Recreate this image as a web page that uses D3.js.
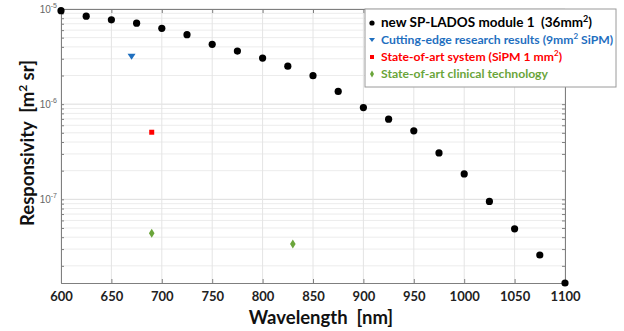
<!DOCTYPE html>
<html>
<head>
<meta charset="utf-8">
<script src="https://cdn.jsdelivr.net/npm/d3@7"></script>
<style>
  body { margin: 0; background: #fff; }
  svg { font-family: Lato, "Open Sans", sans-serif; }
</style>
</head>
<body>
<div id="chart"></div>
<script>
// main series: new SP-LADOS module 1
const wavelengths = [600, 625, 650, 675, 700, 725, 750, 775, 800, 825, 850, 875, 900, 925, 950, 975, 1000, 1025, 1050, 1075, 1100];
const responsivity = [9.6e-6, 8.4e-6, 7.7e-6, 7.1e-6, 6.26e-6, 5.37e-6, 4.25e-6, 3.61e-6, 3.05e-6, 2.51e-6, 1.99e-6, 1.36e-6, 9.2e-7, 6.95e-7, 5.24e-7, 3.07e-7, 1.85e-7, 9.5e-8, 4.9e-8, 2.6e-8, 1.32e-8];

// comparison points
const cuttingEdge = [{ x: 670, y: 3.15e-6 }];
const stateSystem = [{ x: 690, y: 5.07e-7 }];
const clinical = [{ x: 690, y: 4.4e-8 }, { x: 830, y: 3.4e-8 }];

const xTicks = [600, 650, 700, 750, 800, 850, 900, 950, 1000, 1050, 1100];
const yExponents = [-5, -6, -7];

const legendItems = [
  { label: "new SP-LADOS module 1  (36mm²)", color: "#000", shape: "circle" },
  { label: "Cutting-edge research results (9mm² SiPM)", color: "#1f6fbf", shape: "triangle" },
  { label: "State-of-art system (SiPM 1 mm²)", color: "#ff0000", shape: "square" },
  { label: "State-of-art clinical technology", color: "#6aa53a", shape: "diamond" }
];

const W = 624, H = 331;
const margin = { left: 61, right: 59, top: 9, bottom: 48 };

const svg = d3.select("#chart").append("svg")
  .attr("width", W).attr("height", H);

const x = d3.scaleLinear().domain([600, 1100]).range([margin.left, W - margin.right]);
const y = d3.scaleLog().domain([1.32e-8, 1e-5]).range([H - margin.bottom, margin.top]);

// grid: minor and major log lines
const gridVals = [];
for (let e = -8; e <= -6; e++) {
  for (let m = 1; m <= 9; m++) {
    const v = m * Math.pow(10, e);
    if (v >= 1.32e-8 && v <= 1e-5) gridVals.push(v);
  }
}
gridVals.push(1e-5);

const isMajor = d => Math.abs(Math.log10(d) - Math.round(Math.log10(d))) < 1e-9;

svg.append("g").selectAll("line").data(gridVals).join("line")
  .attr("x1", margin.left).attr("x2", W - margin.right)
  .attr("y1", d => y(d)).attr("y2", d => y(d))
  .attr("stroke", d => isMajor(d) ? "#dcdcdc" : "#ececec")
  .attr("stroke-width", 1);

svg.append("g").selectAll("line").data(xTicks).join("line")
  .attr("x1", d => x(d)).attr("x2", d => x(d))
  .attr("y1", margin.top).attr("y2", H - margin.bottom)
  .attr("stroke", "#e4e4e4");

// axes box with inward ticks
const axisColor = "#7f7f7f";
const xAxisB = d3.axisBottom(x).tickValues(xTicks).tickSize(-4).tickFormat(d => d);
const gx = svg.append("g").attr("transform", `translate(0,${H - margin.bottom})`).call(xAxisB);
gx.select(".domain").attr("stroke", axisColor);
gx.selectAll(".tick line").attr("stroke", axisColor);
gx.selectAll("text").attr("fill", "#222").attr("font-size", 13).attr("font-weight", "bold")
  .attr("font-family", "Lato, sans-serif").attr("dy", "1.15em");

const gxTop = svg.append("g").attr("transform", `translate(0,${margin.top})`)
  .call(d3.axisTop(x).tickValues(xTicks).tickSize(-4).tickFormat(""));
gxTop.select(".domain").attr("stroke", axisColor);
gxTop.selectAll(".tick line").attr("stroke", axisColor);

const gyL = svg.append("g").attr("transform", `translate(${margin.left},0)`)
  .call(d3.axisLeft(y).tickValues(gridVals).tickSize(-3).tickFormat(""));
const gyR = svg.append("g").attr("transform", `translate(${W - margin.right},0)`)
  .call(d3.axisRight(y).tickValues(gridVals).tickSize(-3).tickFormat(""));
[gyL, gyR].forEach(g => {
  g.select(".domain").attr("stroke", axisColor);
  g.selectAll(".tick line").attr("stroke", axisColor);
});

// y tick labels 10^e
const yLab = svg.append("g").selectAll("text").data(yExponents).join("text")
  .attr("x", margin.left - 4)
  .attr("y", d => y(Math.pow(10, d)) + 4)
  .attr("text-anchor", "end")
  .attr("fill", "#666")
  .attr("font-size", 10)
  .attr("font-family", "Liberation Sans, Arial, sans-serif");
yLab.append("tspan").text("10");
yLab.append("tspan").attr("dy", -5).attr("font-size", 7).text(d => d);

// axis labels
svg.append("text")
  .attr("x", 321).attr("y", 324)
  .attr("text-anchor", "middle")
  .attr("font-size", 18.5).attr("font-weight", "bold").attr("fill", "#111")
  .attr("xml:space", "preserve")
  .text("Wavelength  [nm]");

const yl = svg.append("text")
  .attr("transform", `translate(34,143) rotate(-90)`)
  .attr("text-anchor", "middle")
  .attr("font-size", 18.5).attr("font-weight", "bold").attr("fill", "#111")
  .attr("xml:space", "preserve");
yl.append("tspan").text("Responsivity  [m");
yl.append("tspan").attr("dy", -7).attr("font-size", 12).text("2");
yl.append("tspan").attr("dy", 7).text(" sr]");

// markers
svg.append("g").selectAll("circle").data(wavelengths).join("circle")
  .attr("cx", d => x(d))
  .attr("cy", (d, i) => y(responsivity[i]))
  .attr("r", 3.6)
  .attr("fill", "#000");

svg.append("g").selectAll("path").data(cuttingEdge).join("path")
  .attr("transform", d => `translate(${x(d.x)},${y(d.y)})`)
  .attr("d", "M-4,-3L4,-3L0,3Z")
  .attr("fill", "#1f6fbf");

svg.append("g").selectAll("rect").data(stateSystem).join("rect")
  .attr("x", d => x(d.x) - 2.5).attr("y", d => y(d.y) - 2.5)
  .attr("width", 5).attr("height", 5)
  .attr("fill", "#ff0000");

svg.append("g").selectAll("path").data(clinical).join("path")
  .attr("transform", d => `translate(${x(d.x)},${y(d.y)})`)
  .attr("d", "M0,-4.5L2.8,0L0,4.5L-2.8,0Z")
  .attr("fill", "#6aa53a");

// legend
const lg = svg.append("g").attr("transform", "translate(365,9)");
lg.append("rect")
  .attr("x", 0).attr("y", 0).attr("width", 251).attr("height", 78)
  .attr("fill", "#fff").attr("stroke", "#9a9a9a").attr("stroke-width", 1);

const rows = [18, 35, 52, 69];
legendItems.forEach((item, i) => {
  const row = lg.append("g").attr("transform", `translate(0,${rows[i]})`);
  const mx = 7;
  if (item.shape === "circle") row.append("circle").attr("cx", mx).attr("cy", -4).attr("r", 2.6).attr("fill", item.color);
  if (item.shape === "triangle") row.append("path").attr("d", `M${mx - 3},-6L${mx + 3},-6L${mx},-2Z`).attr("fill", item.color);
  if (item.shape === "square") row.append("rect").attr("x", mx - 2).attr("y", -6).attr("width", 4).attr("height", 4).attr("fill", item.color);
  if (item.shape === "diamond") row.append("path").attr("d", `M${mx},-7.5L${mx + 2},-4L${mx},-0.5L${mx - 2},-4Z`).attr("fill", item.color);

  const t = row.append("text").attr("x", 16).attr("y", 0)
    .attr("fill", item.color).attr("font-weight", "bold")
    .attr("font-size", i === 0 ? 13.5 : 12.2)
    .attr("xml:space", "preserve");
  const parts = item.label.split("²");
  t.append("tspan").text(parts[0]);
  if (parts.length > 1) {
    t.append("tspan").attr("dy", -5).attr("font-size", i === 0 ? 9 : 8).text("2");
    t.append("tspan").attr("dy", 5).text(parts[1]);
  }
});
</script>
</body>
</html>
